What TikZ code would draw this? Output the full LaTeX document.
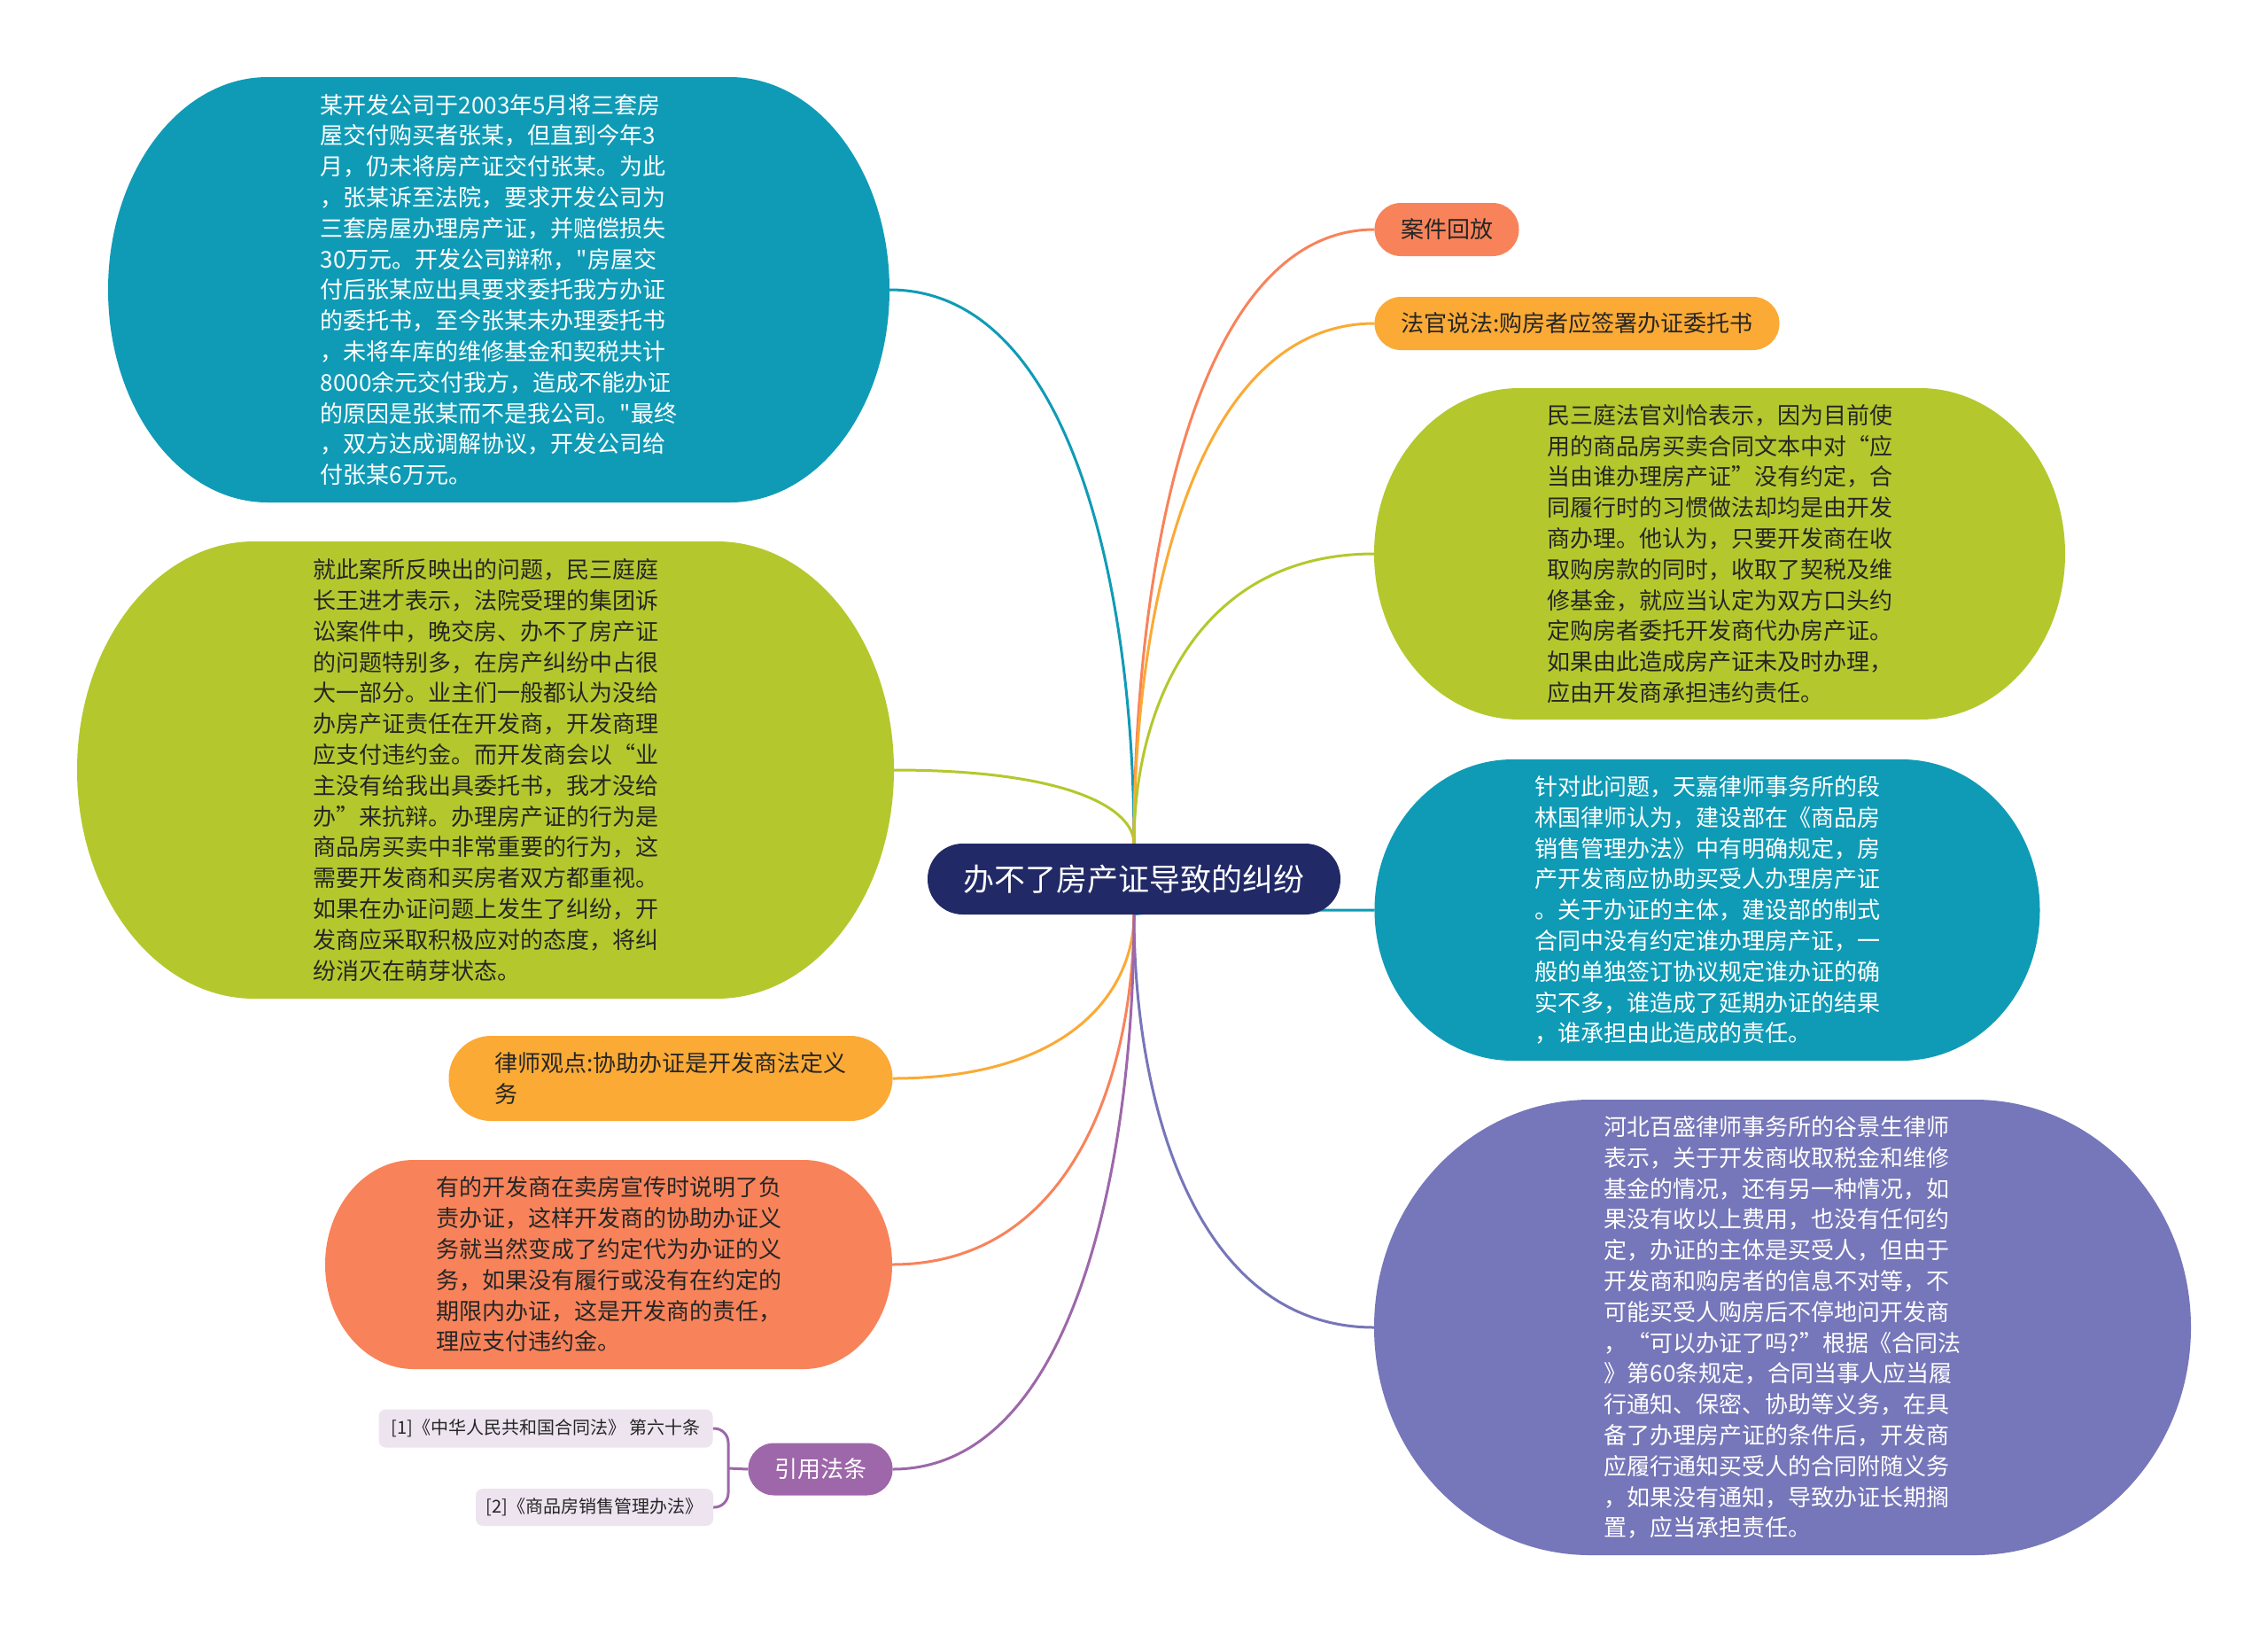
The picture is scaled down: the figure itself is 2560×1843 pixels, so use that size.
\documentclass[tikz,border=0pt]{standalone}
\usepackage{fontspec}
\setmainfont{Noto Sans CJK SC}
\newfontfamily\plainq{Noto Sans CJK SC}[Ligatures=TeXOff]
\usetikzlibrary{calc}
\pgfdeclarelayer{bg}
\pgfsetlayers{bg,main}
\definecolor{cteal}{HTML}{0F9BB6}
\definecolor{cgreen}{HTML}{B4C82D}
\definecolor{corange}{HTML}{FBAA35}
\definecolor{csalmon}{HTML}{F8835A}
\definecolor{cpurple}{HTML}{9E67AA}
\definecolor{clav}{HTML}{7676BA}
\definecolor{cnavy}{HTML}{212966}
\definecolor{cchild}{HTML}{EDE4F0}
\definecolor{cdark}{HTML}{262626}
\newcommand\sq{{\plainq "}}
\newcommand\blobfill[4]{%
\begin{pgfonlayer}{bg}
\fill[#2] ($(#1.north west)+(#3,0pt)$) -- ($(#1.north east)+(-#3,0pt)$)
 arc[start angle=90,end angle=0,x radius=#3,y radius=#4]
 -- ($(#1.south east)+(0pt,#4)$)
 arc[start angle=0,end angle=-90,x radius=#3,y radius=#4]
 -- ($(#1.south west)+(#3,0pt)$)
 arc[start angle=-90,end angle=-180,x radius=#3,y radius=#4]
 -- ($(#1.north west)+(0pt,-#4)$)
 arc[start angle=180,end angle=90,x radius=#3,y radius=#4]
 -- cycle;
\end{pgfonlayer}}
\newcommand\branch[3]{\draw[conn,#3] (#1) .. controls ($(#1)!0.45!(#1 |- #2)$) and ($(#2)!0.75!(#1 |- #2)$) .. (#2);}
\tikzset{
  body/.style={font=\fontsize{13pt}{17.4pt}\selectfont, align=left, inner sep=0pt, outer sep=0pt, rectangle},
  pill/.style={body, align=center},
  conn/.style={line width=1.5pt},
  child/.style={body, fill=cchild, text=cdark, rounded corners=4pt, font=\fontsize{10pt}{12pt}\selectfont, align=center},
}
\begin{document}
\begin{tikzpicture}[x=0.5pt,y=-0.5pt]
\useasboundingbox (0,0) rectangle (2560,1843);
\begin{pgfonlayer}{bg}
\fill[white] (0,0) rectangle (2560,1843);
\end{pgfonlayer}

% center
\node[pill, fill=cnavy, text=white, font=\fontsize{17.5pt}{21pt}\selectfont, minimum width=233pt, minimum height=40pt, rounded corners=19.9pt] (c) at (1280,992) {办不了房产证导致的纠纷};

% left side
\node[body, text=white, minimum width=441pt, minimum height=240pt] (tl) at (563,327) {某开发公司于2003年5月将三套房\\屋交付购买者张某，但直到今年3\\月，仍未将房产证交付张某。为此\\，张某诉至法院，要求开发公司为\\三套房屋办理房产证，并赔偿损失\\30万元。开发公司辩称，\sq 房屋交\\付后张某应出具要求委托我方办证\\的委托书，至今张某未办理委托书\\，未将车库的维修基金和契税共计\\8000余元交付我方，造成不能办证\\的原因是张某而不是我公司。\sq 最终\\，双方达成调解协议，开发公司给\\付张某6万元。};
\blobfill{tl}{cteal}{90pt}{120pt}

\node[body, text=cdark, minimum width=461pt, minimum height=258pt] (gl) at (548,869) {就此案所反映出的问题，民三庭庭\\长王进才表示，法院受理的集团诉\\讼案件中，晚交房、办不了房产证\\的问题特别多，在房产纠纷中占很\\大一部分。业主们一般都认为没给\\办房产证责任在开发商，开发商理\\应支付违约金。而开发商会以“业\\主没有给我出具委托书，我才没给\\办”来抗辩。办理房产证的行为是\\商品房买卖中非常重要的行为，这\\需要开发商和买房者双方都重视。\\如果在办证问题上发生了纠纷，开\\发商应采取积极应对的态度，将纠\\纷消灭在萌芽状态。};
\blobfill{gl}{cgreen}{100pt}{129pt}

\node[body, fill=corange, text=cdark, minimum width=250.5pt, minimum height=48pt, rounded corners=23.9pt] (ol) at (757,1217) {律师观点:协助办证是开发商法定义\\务};

\node[body, text=cdark, minimum width=320pt, minimum height=118pt] (sl) at (687,1427) {有的开发商在卖房宣传时说明了负\\责办证，这样开发商的协助办证义\\务就当然变成了约定代为办证的义\\务，如果没有履行或没有在约定的\\期限内办证，这是开发商的责任，\\理应支付违约金。};
\blobfill{sl}{csalmon}{50pt}{59pt}

\node[pill, fill=cpurple, text=white, minimum width=81.5pt, minimum height=29.5pt, rounded corners=14.6pt] (pl) at (926,1658) {引用法条};
\node[child, minimum width=188.5pt, minimum height=21.5pt] (c1) at (616,1612) {[1]《中华人民共和国合同法》 第六十条};
\node[child, minimum width=134pt, minimum height=21pt] (c2) at (671,1701) {[2]《商品房销售管理办法》};

% right side
\node[pill, fill=csalmon, text=cdark, minimum width=81.5pt, minimum height=30pt, rounded corners=14.9pt] (r1) at (1633,259) {案件回放};
\node[pill, fill=corange, text=cdark, minimum width=228.5pt, minimum height=30pt, rounded corners=14.9pt] (r2) at (1780,365) {法官说法:购房者应签署办证委托书};

\node[body, text=cdark, minimum width=390pt, minimum height=187pt] (rg) at (1941,625) {民三庭法官刘恰表示，因为目前使\\用的商品房买卖合同文本中对“应\\当由谁办理房产证”没有约定，合\\同履行时的习惯做法却均是由开发\\商办理。他认为，只要开发商在收\\取购房款的同时，收取了契税及维\\修基金，就应当认定为双方口头约\\定购房者委托开发商代办房产证。\\如果由此造成房产证未及时办理，\\应由开发商承担违约责任。};
\blobfill{rg}{cgreen}{82pt}{93.5pt}

\node[body, text=white, minimum width=375.5pt, minimum height=170pt] (rt) at (1927,1027) {针对此问题，天嘉律师事务所的段\\林国律师认为，建设部在《商品房\\销售管理办法》中有明确规定，房\\产开发商应协助买受人办理房产证\\。关于办证的主体，建设部的制式\\合同中没有约定谁办理房产证，一\\般的单独签订协议规定谁办证的确\\实不多，谁造成了延期办证的结果\\，谁承担由此造成的责任。};
\blobfill{rt}{cteal}{78pt}{85pt}

\node[body, text=white, minimum width=461pt, minimum height=257pt] (rp) at (2012,1498) {河北百盛律师事务所的谷景生律师\\表示，关于开发商收取税金和维修\\基金的情况，还有另一种情况，如\\果没有收以上费用，也没有任何约\\定，办证的主体是买受人，但由于\\开发商和购房者的信息不对等，不\\可能买受人购房后不停地问开发商\\，“可以办证了吗?”根据《合同法\\》第60条规定，合同当事人应当履\\行通知、保密、协助等义务，在具\\备了办理房产证的条件后，开发商\\应履行通知买受人的合同附随义务\\，如果没有通知，导致办证长期搁\\置，应当承担责任。};
\blobfill{rp}{clav}{122pt}{128.5pt}

% connectors
\begin{pgfonlayer}{bg}
\branch{c.north}{tl.east}{cteal}
\branch{c.north}{gl.east}{cgreen}
\branch{c.north}{r1.west}{csalmon}
\branch{c.north}{r2.west}{corange}
\branch{c.north}{rg.west}{cgreen}
\branch{c.south}{rt.west}{cteal}
\branch{c.south}{rp.west}{clav}
\branch{c.south}{ol.east}{corange}
\branch{c.south}{sl.east}{csalmon}
\branch{c.south}{pl.east}{cpurple}
\coordinate (bk) at (822,1657);
\draw[conn,cpurple] (pl.west) -- (bk);
\draw[conn,cpurple,rounded corners=8pt] (c1.east) -| (bk) |- (c2.east);
\end{pgfonlayer}
\end{tikzpicture}
\end{document}
